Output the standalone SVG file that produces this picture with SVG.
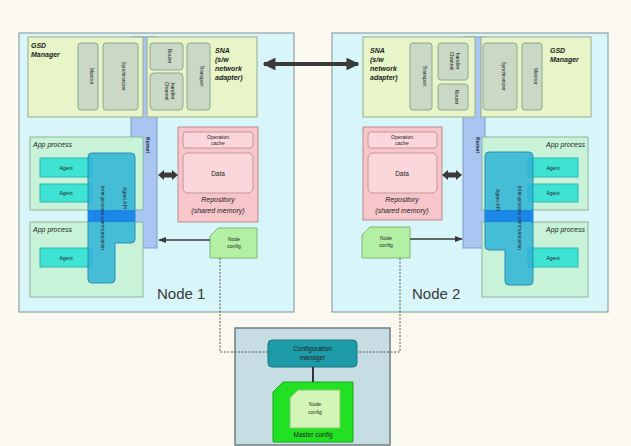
<svg xmlns="http://www.w3.org/2000/svg" width="631" height="446" viewBox="0 0 631 446">
  <defs>
    <style>
      .bg { fill: #fbf9ef; }
      .node { fill: #d8f5f9; stroke: #8fa3a6; stroke-width: 1.2; }
      .mod { fill: #e7f5c8; stroke: #9aaa88; stroke-width: 1; }
      .sub { fill: #c9d9c6; stroke: #8fa88c; stroke-width: 1; }
      .bus { fill: #a9c6f2; stroke: #7d9bd0; stroke-width: 1; }
      .proc { fill: #c8f3d8; stroke: #8fb5a0; stroke-width: 1; }
      .agent { fill: #3fe3d3; stroke: #2fb8b0; stroke-width: 1; }
      .api { fill: #2fb3d6; fill-opacity: 0.85; stroke: #2a8fb0; stroke-width: 1; }
      .band { fill: #1a86e6; }
      .repo { fill: #f6c6cb; stroke: #b98a8f; stroke-width: 1; }
      .repoIn { fill: #fbd7db; stroke: #c29498; stroke-width: 1; }
      .ncfg { fill: #b3f0a4; stroke: #7fb873; stroke-width: 1; }
      .cfgFrame { fill: #c6dde3; stroke: #6f7f83; stroke-width: 1.5; }
      .cfgMgr { fill: #1e9ba9; stroke: #167884; stroke-width: 1; }
      .master { fill: #22e022; stroke: #18a818; stroke-width: 1; }
      .masterIn { fill: #d3f5b5; stroke: #8cc478; stroke-width: 1; }
      .t { font-family: "Liberation Sans", Arial, sans-serif; fill: #222; }
      .tiny { font-size: 5px; }
      .small { font-size: 6.5px; }
      .lbl { font-size: 7px; font-weight: bold; font-style: italic; }
      .it { font-size: 7px; font-style: italic; }
      .big { font-size: 15px; fill: #3a3a3a; }
      .thick { stroke: #3a3a3a; stroke-width: 4; fill: none; }
      .thin { stroke: #3a3a3a; stroke-width: 1.6; fill: none; }
      .dot { stroke: #555; stroke-width: 1; stroke-dasharray: 2 1.5; fill: none; }
      .dbl { fill: #3a3a3a; }
    </style>
    <marker id="ah" viewBox="0 0 10 10" refX="9" refY="5" markerWidth="3.2" markerHeight="3.2" orient="auto-start-reverse">
      <path d="M0,0 L10,5 L0,10 Z" fill="#3a3a3a"/>
    </marker>
    <marker id="ahs" viewBox="0 0 10 10" refX="9" refY="5" markerWidth="5" markerHeight="5" orient="auto">
      <path d="M0,1 L10,5 L0,9 Z" fill="#3a3a3a"/>
    </marker>
  </defs>

  <rect class="bg" x="0" y="0" width="631" height="446"/>

  <!-- Node 1 -->
  <g id="node1">
    <rect class="node" x="19" y="33" width="275" height="279"/>
    <rect class="bus" x="131" y="37" width="26" height="211"/>
    <text class="t tiny" font-weight="bold" transform="translate(146,145) rotate(90)" text-anchor="middle">Kernel</text>

    <g id="gsd1">
      <rect class="mod" x="28" y="37" width="115" height="80"/>
      <text class="t lbl" x="31" y="48">GSD</text>
      <text class="t lbl" x="31" y="57">Manager</text>
      <rect class="sub" x="78" y="43" width="20" height="67" rx="3"/>
      <text class="t tiny" transform="translate(90,76) rotate(90)" text-anchor="middle">Monitor</text>
      <rect class="sub" x="103" y="43" width="35" height="67" rx="3"/>
      <text class="t tiny" transform="translate(122,76) rotate(90)" text-anchor="middle">Synchronizer</text>
    </g>

    <g id="sna1">
      <rect class="mod" x="147" y="37" width="110" height="80"/>
      <rect class="sub" x="150" y="43" width="33" height="27" rx="3"/>
      <text class="t tiny" transform="translate(168,56) rotate(90)" text-anchor="middle">Router</text>
      <rect class="sub" x="150" y="73" width="33" height="37" rx="4"/>
      <text class="t tiny" transform="translate(165,91) rotate(90)" text-anchor="middle">Channel</text>
      <text class="t tiny" transform="translate(171,91) rotate(90)" text-anchor="middle">handler</text>
      <rect class="sub" x="187" y="43" width="23" height="67" rx="3"/>
      <text class="t tiny" transform="translate(200,76) rotate(90)" text-anchor="middle">Transport</text>
      <text class="t lbl" x="215" y="53">SNA</text>
      <text class="t lbl" x="215" y="62">(s/w</text>
      <text class="t lbl" x="215" y="71">network</text>
      <text class="t lbl" x="215" y="80">adapter)</text>
    </g>

    <g id="app1a">
      <rect class="proc" x="30" y="137" width="113" height="73"/>
      <text class="t it" x="33" y="147">App process</text>
      <rect class="agent" x="40" y="158" width="52" height="19"/>
      <text class="t tiny" x="66" y="169.5" text-anchor="middle">Agent</text>
      <rect class="agent" x="40" y="184" width="52" height="18"/>
      <text class="t tiny" x="66" y="195" text-anchor="middle">Agent</text>
    </g>
    <g id="app1b">
      <rect class="proc" x="30" y="222" width="113" height="75"/>
      <text class="t it" x="33" y="232">App process</text>
      <rect class="agent" x="40" y="248" width="52" height="19"/>
      <text class="t tiny" x="66" y="259.5" text-anchor="middle">Agent</text>
    </g>

    <g id="api1">
      <path class="api" d="M92,153 L131,153 Q135,153 135,157 L135,239 Q135,243 131,243 L115,243 L115,279 Q115,283 111,283 L92,283 Q88,283 88,279 L88,157 Q88,153 92,153 Z"/>
      <rect class="band" x="88" y="210" width="47" height="12"/>
      <text class="t tiny" transform="translate(101,218) rotate(90)" text-anchor="middle">Inter-process communication</text>
      <text class="t tiny" transform="translate(123,198) rotate(90)" text-anchor="middle">Agent API</text>
    </g>

    <g id="repo1">
      <rect class="repo" x="178" y="127" width="80" height="95"/>
      <rect class="repoIn" x="183" y="132" width="70" height="16" rx="3"/>
      <text class="t tiny" x="218" y="139" text-anchor="middle">Operation</text>
      <text class="t tiny" x="218" y="145" text-anchor="middle">cache</text>
      <rect class="repoIn" x="183" y="153" width="70" height="40" rx="5"/>
      <text class="t small" x="218" y="176" text-anchor="middle">Data</text>
      <text class="t it" x="218" y="202" text-anchor="middle">Repository</text>
      <text class="t it" x="218" y="213" text-anchor="middle">(shared memory)</text>
    </g>

    <g id="ncfg1">
      <path class="ncfg" d="M218,228 L257,228 L257,258 L210,258 L210,236 Z"/>
      <text class="t tiny" x="234" y="241" text-anchor="middle">Node</text>
      <text class="t tiny" x="234" y="248" text-anchor="middle">config</text>
    </g>
    <text class="t big" x="157" y="299">Node 1</text>
  </g>

  <!-- Node 2 -->
  <g id="node2">
    <rect class="node" x="332" y="33" width="276" height="279"/>
    <rect class="bus" x="463" y="37" width="22" height="211"/>
    <text class="t tiny" font-weight="bold" transform="translate(476,145) rotate(90)" text-anchor="middle">Kernel</text>

    <g id="sna2">
      <rect class="mod" x="363" y="37" width="112" height="80"/>
      <text class="t lbl" x="370" y="53">SNA</text>
      <text class="t lbl" x="370" y="62">(s/w</text>
      <text class="t lbl" x="370" y="71">network</text>
      <text class="t lbl" x="370" y="80">adapter)</text>
      <rect class="sub" x="410" y="43" width="22" height="67" rx="3"/>
      <text class="t tiny" transform="translate(423,76) rotate(90)" text-anchor="middle">Transport</text>
      <rect class="sub" x="438" y="43" width="30" height="37" rx="3"/>
      <text class="t tiny" transform="translate(450,61) rotate(90)" text-anchor="middle">Channel</text>
      <text class="t tiny" transform="translate(456,61) rotate(90)" text-anchor="middle">handler</text>
      <rect class="sub" x="438" y="84" width="30" height="26" rx="3"/>
      <text class="t tiny" transform="translate(455,97) rotate(90)" text-anchor="middle">Router</text>
    </g>

    <g id="gsd2">
      <rect class="mod" x="481" y="37" width="110" height="80"/>
      <rect class="sub" x="483" y="43" width="34" height="67" rx="3"/>
      <text class="t tiny" transform="translate(502,76) rotate(90)" text-anchor="middle">Synchronizer</text>
      <rect class="sub" x="522" y="43" width="20" height="67" rx="3"/>
      <text class="t tiny" transform="translate(534,76) rotate(90)" text-anchor="middle">Monitor</text>
      <text class="t lbl" x="550" y="53">GSD</text>
      <text class="t lbl" x="550" y="62">Manager</text>
    </g>

    <g id="app2a">
      <rect class="proc" x="482" y="137" width="106" height="73"/>
      <text class="t it" x="585" y="147" text-anchor="end">App process</text>
      <rect class="agent" x="528" y="158" width="50" height="19"/>
      <text class="t tiny" x="553" y="169.5" text-anchor="middle">Agent</text>
      <rect class="agent" x="528" y="184" width="50" height="18"/>
      <text class="t tiny" x="553" y="195" text-anchor="middle">Agent</text>
    </g>
    <g id="app2b">
      <rect class="proc" x="482" y="222" width="106" height="75"/>
      <text class="t it" x="585" y="232" text-anchor="end">App process</text>
      <rect class="agent" x="528" y="248" width="50" height="19"/>
      <text class="t tiny" x="553" y="259.5" text-anchor="middle">Agent</text>
    </g>

    <g id="api2">
      <path class="api" d="M489,152 L529,152 Q533,152 533,156 L533,281 Q533,285 529,285 L509,285 Q505,285 505,281 L505,250 L489,250 Q485,250 485,246 L485,156 Q485,152 489,152 Z"/>
      <rect class="band" x="485" y="210" width="48" height="12"/>
      <text class="t tiny" transform="translate(496,200) rotate(90)" text-anchor="middle">Agent API</text>
      <text class="t tiny" transform="translate(518,218) rotate(90)" text-anchor="middle">Inter-process communication</text>
    </g>

    <g id="repo2">
      <rect class="repo" x="363" y="127" width="79" height="93"/>
      <rect class="repoIn" x="368" y="132" width="69" height="16" rx="3"/>
      <text class="t tiny" x="402" y="139" text-anchor="middle">Operation</text>
      <text class="t tiny" x="402" y="145" text-anchor="middle">cache</text>
      <rect class="repoIn" x="368" y="153" width="69" height="40" rx="5"/>
      <text class="t small" x="402" y="176" text-anchor="middle">Data</text>
      <text class="t it" x="402" y="202" text-anchor="middle">Repository</text>
      <text class="t it" x="402" y="213" text-anchor="middle">(shared memory)</text>
    </g>

    <g id="ncfg2">
      <path class="ncfg" d="M370,227 L410,227 L410,258 L362,258 L362,235 Z"/>
      <text class="t tiny" x="386" y="240" text-anchor="middle">Node</text>
      <text class="t tiny" x="386" y="247" text-anchor="middle">config</text>
    </g>
    <text class="t big" x="412" y="299">Node 2</text>
  </g>

  <!-- Configuration host -->
  <g id="config">
    <rect class="cfgFrame" x="235" y="328" width="155" height="117"/>
    <g id="cfgmgr">
      <rect class="cfgMgr" x="268" y="340" width="89" height="27" rx="4"/>
      <text class="t small" x="312.5" y="351" text-anchor="middle">Configuration</text>
      <text class="t small" x="312.5" y="360" text-anchor="middle">manager</text>
    </g>
    <g id="master">
      <path class="master" d="M283,382 L353,382 L353,442 L273,442 L273,392 Z"/>
      <path class="masterIn" d="M298,390 L340,390 L340,428 L290,428 L290,398 Z"/>
      <text class="t tiny" x="315" y="406" text-anchor="middle">Node</text>
      <text class="t tiny" x="315" y="414" text-anchor="middle">config</text>
      <text class="t small" x="313" y="437" text-anchor="middle">Master config</text>
    </g>
  </g>

  <!-- Connectors -->
  <g id="connectors">
    <line class="thick" x1="264" y1="64" x2="358" y2="64" marker-start="url(#ah)" marker-end="url(#ah)"/>
    <!-- short double arrows between kernel bus and repository -->
    <path class="dbl" d="M158,175 L164,170 L164,172.5 L172,172.5 L172,170 L178,175 L172,180 L172,177.5 L164,177.5 L164,180 Z"/>
    <path class="dbl" d="M442,175 L448,170 L448,172.5 L456,172.5 L456,170 L462,175 L456,180 L456,177.5 L448,177.5 L448,180 Z"/>
    <line class="thin" x1="210" y1="240" x2="159" y2="240" marker-end="url(#ahs)"/>
    <line class="thin" x1="410" y1="239" x2="462" y2="239" marker-end="url(#ahs)"/>
    <polyline class="dot" points="220,258 220,352 268,352"/>
    <polyline class="dot" points="400,258 400,352 357,352"/>
    <line stroke="#333" stroke-width="2" x1="313" y1="367" x2="313" y2="382"/>
  </g>
</svg>
